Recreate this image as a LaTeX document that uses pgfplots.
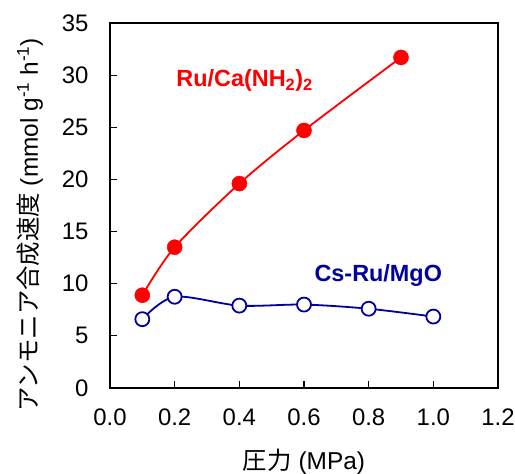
\documentclass[border=0pt]{standalone}
\usepackage{pgfplots}
\pgfplotsset{compat=1.18}
\usepackage{fontspec}
\setmainfont{Liberation Sans}
\newfontfamily\jp{Noto Sans CJK JP}
\definecolor{rred}{RGB}{255,0,0}
\definecolor{rblue}{RGB}{0,0,160}
\begin{document}
\begin{tikzpicture}
\useasboundingbox (-110bp,-86bp) rectangle (405bp,388bp);
\begin{axis}[
  at={(0,0)}, anchor=south west,
  scale only axis, width=388bp, height=365bp,
  xmin=0, xmax=1.2, ymin=0, ymax=35,
  xtick={0,0.2,...,1.2}, ytick={0,5,...,35},
  xticklabel style={/pgf/number format/fixed, /pgf/number format/fixed zerofill, /pgf/number format/precision=1, yshift=-17bp},
  /pgf/number format/assume math mode=true,
  tick label style={font=\fontsize{24}{28}\selectfont},
  xtick pos=bottom, ytick pos=left, tick align=inside,
  major tick length=7bp,
  axis line style={line width=1.6bp},
  every tick/.style={black, line width=1.2bp},
  yticklabel style={xshift=-18bp},
  xlabel={{\jp 圧力} (MPa)},
  ylabel={{\jp アンモニア合成速度} (mmol g\textsuperscript{-1} h\textsuperscript{-1})},
  label style={font=\fontsize{24.5}{28}\selectfont},
  xlabel style={at={(axis description cs:0.5,0)}, anchor=center, yshift=-74bp},
  ylabel style={at={(axis description cs:-0.206,0.447)}, anchor=center},
  clip=false,
]
\addplot[rred, line width=1.8bp, smooth, mark=*, mark size=7.5bp, mark options={fill=rred, draw=rred, line width=0.5bp}]
coordinates {(0.1,8.9) (0.2,13.5) (0.4,19.6) (0.6,24.7) (0.9,31.7)};
\addplot[rblue, line width=1.8bp, smooth, mark=*, mark size=7bp, mark options={fill=white, draw=rblue, line width=1.8bp}]
coordinates {(0.1,6.6) (0.2,8.75) (0.4,7.9) (0.6,8.0) (0.8,7.6) (1.0,6.85)};
\node[anchor=west, text=rred, font=\fontsize{23.5}{27}\selectfont\bfseries, inner sep=0pt] at (axis cs:0.205,29.5) {Ru/Ca(NH\textsubscript{2})\textsubscript{2}};
\node[anchor=west, text=rblue, font=\fontsize{23.5}{27}\selectfont\bfseries, inner sep=0pt] at (axis cs:0.632,10.8) {Cs-Ru/MgO};
\end{axis}
\end{tikzpicture}
\end{document}
